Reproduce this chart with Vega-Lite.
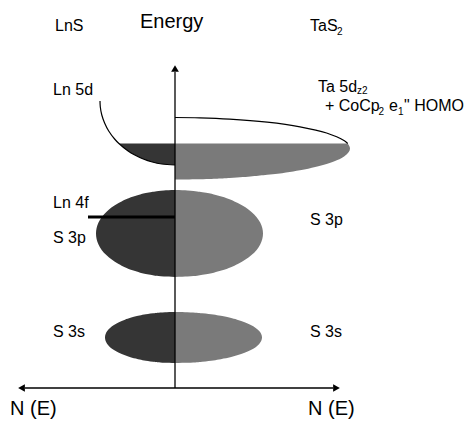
{
  "$schema": "https://vega.github.io/schema/vega-lite/v6.json",
  "width": 472,
  "height": 422,
  "autosize": {"type": "fit", "contains": "padding"},
  "padding": 0,
  "background": "white",
  "config": {"view": {"stroke": null}},
  "datasets": {
    "dos": [
      {"band": "S3s", "side": "LnS", "E": 59, "N": 0},
      {"band": "S3s", "side": "LnS", "E": 59.25, "N": -9.9},
      {"band": "S3s", "side": "LnS", "E": 60.3, "N": -21.8},
      {"band": "S3s", "side": "LnS", "E": 62.8, "N": -36.9},
      {"band": "S3s", "side": "LnS", "E": 66.65, "N": -50},
      {"band": "S3s", "side": "LnS", "E": 71.75, "N": -60.6},
      {"band": "S3s", "side": "LnS", "E": 78.1, "N": -67.8},
      {"band": "S3s", "side": "LnS", "E": 84.5, "N": -70},
      {"band": "S3s", "side": "LnS", "E": 90.9, "N": -67.8},
      {"band": "S3s", "side": "LnS", "E": 97.25, "N": -60.6},
      {"band": "S3s", "side": "LnS", "E": 102.35, "N": -50},
      {"band": "S3s", "side": "LnS", "E": 106.2, "N": -36.9},
      {"band": "S3s", "side": "LnS", "E": 108.7, "N": -21.8},
      {"band": "S3s", "side": "LnS", "E": 109.75, "N": -9.9},
      {"band": "S3s", "side": "LnS", "E": 110, "N": 0},
      {"band": "S3s", "side": "TaS2", "E": 59, "N": 0},
      {"band": "S3s", "side": "TaS2", "E": 59.25, "N": 12.3},
      {"band": "S3s", "side": "TaS2", "E": 60.3, "N": 27.1},
      {"band": "S3s", "side": "TaS2", "E": 62.8, "N": 45.8},
      {"band": "S3s", "side": "TaS2", "E": 66.65, "N": 62.1},
      {"band": "S3s", "side": "TaS2", "E": 71.75, "N": 75.3},
      {"band": "S3s", "side": "TaS2", "E": 78.1, "N": 84.2},
      {"band": "S3s", "side": "TaS2", "E": 84.5, "N": 87},
      {"band": "S3s", "side": "TaS2", "E": 90.9, "N": 84.2},
      {"band": "S3s", "side": "TaS2", "E": 97.25, "N": 75.3},
      {"band": "S3s", "side": "TaS2", "E": 102.35, "N": 62.1},
      {"band": "S3s", "side": "TaS2", "E": 106.2, "N": 45.8},
      {"band": "S3s", "side": "TaS2", "E": 108.7, "N": 27.1},
      {"band": "S3s", "side": "TaS2", "E": 109.75, "N": 12.3},
      {"band": "S3s", "side": "TaS2", "E": 110, "N": 0},
      {"band": "S3p", "side": "LnS", "E": 145, "N": 0},
      {"band": "S3p", "side": "LnS", "E": 145.4, "N": -11.1},
      {"band": "S3p", "side": "LnS", "E": 147.2, "N": -24.6},
      {"band": "S3p", "side": "LnS", "E": 151.5, "N": -41.6},
      {"band": "S3p", "side": "LnS", "E": 158.05, "N": -56.4},
      {"band": "S3p", "side": "LnS", "E": 166.75, "N": -68.4},
      {"band": "S3p", "side": "LnS", "E": 177.6, "N": -76.5},
      {"band": "S3p", "side": "LnS", "E": 188.5, "N": -79},
      {"band": "S3p", "side": "LnS", "E": 199.4, "N": -76.5},
      {"band": "S3p", "side": "LnS", "E": 210.25, "N": -68.4},
      {"band": "S3p", "side": "LnS", "E": 218.95, "N": -56.4},
      {"band": "S3p", "side": "LnS", "E": 225.5, "N": -41.6},
      {"band": "S3p", "side": "LnS", "E": 229.8, "N": -24.6},
      {"band": "S3p", "side": "LnS", "E": 231.6, "N": -11.1},
      {"band": "S3p", "side": "LnS", "E": 232, "N": 0},
      {"band": "S3p", "side": "TaS2", "E": 145, "N": 0},
      {"band": "S3p", "side": "TaS2", "E": 145.4, "N": 12.4},
      {"band": "S3p", "side": "TaS2", "E": 147.2, "N": 27.5},
      {"band": "S3p", "side": "TaS2", "E": 151.5, "N": 46.4},
      {"band": "S3p", "side": "TaS2", "E": 158.05, "N": 62.8},
      {"band": "S3p", "side": "TaS2", "E": 166.75, "N": 76.2},
      {"band": "S3p", "side": "TaS2", "E": 177.6, "N": 85.2},
      {"band": "S3p", "side": "TaS2", "E": 188.5, "N": 88},
      {"band": "S3p", "side": "TaS2", "E": 199.4, "N": 85.2},
      {"band": "S3p", "side": "TaS2", "E": 210.25, "N": 76.2},
      {"band": "S3p", "side": "TaS2", "E": 218.95, "N": 62.8},
      {"band": "S3p", "side": "TaS2", "E": 225.5, "N": 46.4},
      {"band": "S3p", "side": "TaS2", "E": 229.8, "N": 27.5},
      {"band": "S3p", "side": "TaS2", "E": 231.6, "N": 12.4},
      {"band": "S3p", "side": "TaS2", "E": 232, "N": 0},
      {"band": "d", "side": "LnS", "E": 257, "N": 0},
      {"band": "d", "side": "LnS", "E": 258, "N": -13.2},
      {"band": "d", "side": "LnS", "E": 260, "N": -22.7},
      {"band": "d", "side": "LnS", "E": 263, "N": -31.7},
      {"band": "d", "side": "LnS", "E": 267, "N": -40.2},
      {"band": "d", "side": "LnS", "E": 271, "N": -46.9},
      {"band": "d", "side": "LnS", "E": 275, "N": -52.1},
      {"band": "d", "side": "LnS", "E": 278.5, "N": -56.1},
      {"band": "d", "side": "TaS2", "E": 242.5, "N": 0},
      {"band": "d", "side": "TaS2", "E": 242.8, "N": 24.7},
      {"band": "d", "side": "TaS2", "E": 244.05, "N": 54.6},
      {"band": "d", "side": "TaS2", "E": 247.15, "N": 92.2},
      {"band": "d", "side": "TaS2", "E": 251.8, "N": 125},
      {"band": "d", "side": "TaS2", "E": 258, "N": 151.6},
      {"band": "d", "side": "TaS2", "E": 265.75, "N": 169.4},
      {"band": "d", "side": "TaS2", "E": 273.5, "N": 175},
      {"band": "d", "side": "TaS2", "E": 278.5, "N": 172.7}
    ],
    "outline": [
      {"curve": "Ln 5d", "E": 321, "N": -75},
      {"curve": "Ln 5d", "E": 315, "N": -74.7},
      {"curve": "Ln 5d", "E": 307, "N": -73.2},
      {"curve": "Ln 5d", "E": 299, "N": -70.4},
      {"curve": "Ln 5d", "E": 291, "N": -66.3},
      {"curve": "Ln 5d", "E": 283, "N": -60.4},
      {"curve": "Ln 5d", "E": 278.5, "N": -56.1},
      {"curve": "Ln 5d", "E": 271, "N": -46.9},
      {"curve": "Ln 5d", "E": 267, "N": -40.2},
      {"curve": "Ln 5d", "E": 263, "N": -31.7},
      {"curve": "Ln 5d", "E": 260, "N": -22.7},
      {"curve": "Ln 5d", "E": 258, "N": -13.2},
      {"curve": "Ln 5d", "E": 257, "N": 0},
      {"curve": "Ta 5d", "E": 304.5, "N": 0},
      {"curve": "Ta 5d", "E": 304.19, "N": 24.7},
      {"curve": "Ta 5d", "E": 302.95, "N": 54.6},
      {"curve": "Ta 5d", "E": 299.85, "N": 92.2},
      {"curve": "Ta 5d", "E": 295.2, "N": 125},
      {"curve": "Ta 5d", "E": 289, "N": 151.6},
      {"curve": "Ta 5d", "E": 281.25, "N": 169.4},
      {"curve": "Ta 5d", "E": 278.5, "N": 172.7}
    ],
    "axes": [
      {"N": 0, "N2": 0, "E": 34, "E2": 350},
      {"N": -150, "N2": 158, "E": 34, "E2": 34}
    ],
    "f": [
      {"N": -87, "N2": 0, "E": 205}
    ],
    "heads": [
      {"dir": "up", "N": 0, "E": 353.5},
      {"dir": "left", "N": -153.5, "E": 34},
      {"dir": "right", "N": 161.5, "E": 34}
    ],
    "labels": [
      {"t": "LnS", "N": -120, "E": 391},
      {"t": "TaS", "N": 135, "E": 391},
      {"t": "Ln 5d", "N": -122, "E": 327},
      {"t": "Ta 5d", "N": 143, "E": 330},
      {"t": "+ CoCp", "N": 150, "E": 311},
      {"t": "e", "N": 214, "E": 311},
      {"t": "\" HOMO", "N": 229, "E": 311},
      {"t": "Ln 4f", "N": -122, "E": 214},
      {"t": "S 3p", "N": -122, "E": 179},
      {"t": "S 3p", "N": 135, "E": 197},
      {"t": "S 3s", "N": -122, "E": 85},
      {"t": "S 3s", "N": 135, "E": 85}
    ],
    "subs": [
      {"t": "2", "N": 162, "E": 387.5},
      {"t": "z2", "N": 182, "E": 328},
      {"t": "2", "N": 203.5, "E": 307.5},
      {"t": "1", "N": 223, "E": 307.5}
    ],
    "big": [
      {"t": "Energy", "N": -35, "E": 394},
      {"t": "N (E)", "N": -165, "E": 7},
      {"t": "N (E)", "N": 133, "E": 7}
    ]
  },
  "layer": [
    {
      "data": {"name": "dos"},
      "mark": {"type": "area", "orient": "horizontal", "interpolate": "monotone"},
      "encoding": {
        "y": {"field": "E", "type": "quantitative", "scale": {"domain": [0, 422], "nice": false, "zero": false}, "axis": null},
        "x": {"field": "N", "type": "quantitative", "stack": null, "scale": {"domain": [-175, 297], "nice": false, "zero": false}, "axis": null},
        "x2": {"datum": 0},
        "color": {"field": "side", "type": "nominal", "scale": {"domain": ["LnS", "TaS2"], "range": ["#353535", "#7a7a7a"]}, "legend": null},
        "detail": {"field": "band"}
      }
    },
    {
      "data": {"name": "outline"},
      "mark": {"type": "line", "interpolate": "catmull-rom", "color": "black", "strokeWidth": 1.2},
      "encoding": {
        "y": {"field": "E", "type": "quantitative", "scale": {"domain": [0, 422], "nice": false, "zero": false}, "axis": null},
        "x": {"field": "N", "type": "quantitative", "scale": {"domain": [-175, 297], "nice": false, "zero": false}, "axis": null},
        "detail": {"field": "curve"},
        "order": {"field": "E", "sort": "descending"}
      }
    },
    {
      "data": {"name": "axes"},
      "mark": {"type": "rule", "color": "black", "strokeWidth": 1.3},
      "encoding": {
        "x": {"field": "N", "type": "quantitative", "scale": {"domain": [-175, 297], "nice": false, "zero": false}, "axis": null},
        "x2": {"field": "N2"},
        "y": {"field": "E", "type": "quantitative", "scale": {"domain": [0, 422], "nice": false, "zero": false}, "axis": null},
        "y2": {"field": "E2"}
      }
    },
    {
      "data": {"name": "f"},
      "mark": {"type": "rule", "color": "black", "strokeWidth": 3},
      "encoding": {
        "x": {"field": "N", "type": "quantitative", "scale": {"domain": [-175, 297], "nice": false, "zero": false}, "axis": null},
        "x2": {"field": "N2"},
        "y": {"field": "E", "type": "quantitative", "scale": {"domain": [0, 422], "nice": false, "zero": false}, "axis": null}
      }
    },
    {
      "data": {"name": "heads"},
      "mark": {"type": "point", "filled": true, "color": "black", "opacity": 1, "size": 60},
      "encoding": {
        "x": {"field": "N", "type": "quantitative", "scale": {"domain": [-175, 297], "nice": false, "zero": false}, "axis": null},
        "y": {"field": "E", "type": "quantitative", "scale": {"domain": [0, 422], "nice": false, "zero": false}, "axis": null},
        "shape": {"field": "dir", "type": "nominal", "scale": {"domain": ["up", "left", "right"], "range": ["triangle-up", "triangle-left", "triangle-right"]}, "legend": null}
      }
    },
    {
      "data": {"name": "labels"},
      "mark": {"type": "text", "align": "left", "baseline": "alphabetic", "font": "Liberation Sans", "fontSize": 16, "color": "black"},
      "encoding": {
        "x": {"field": "N", "type": "quantitative", "scale": {"domain": [-175, 297], "nice": false, "zero": false}, "axis": null},
        "y": {"field": "E", "type": "quantitative", "scale": {"domain": [0, 422], "nice": false, "zero": false}, "axis": null},
        "text": {"field": "t"}
      }
    },
    {
      "data": {"name": "subs"},
      "mark": {"type": "text", "align": "left", "baseline": "alphabetic", "font": "Liberation Sans", "fontSize": 10, "color": "black"},
      "encoding": {
        "x": {"field": "N", "type": "quantitative", "scale": {"domain": [-175, 297], "nice": false, "zero": false}, "axis": null},
        "y": {"field": "E", "type": "quantitative", "scale": {"domain": [0, 422], "nice": false, "zero": false}, "axis": null},
        "text": {"field": "t"}
      }
    },
    {
      "data": {"name": "big"},
      "mark": {"type": "text", "align": "left", "baseline": "alphabetic", "font": "Liberation Sans", "fontSize": 20, "color": "black"},
      "encoding": {
        "x": {"field": "N", "type": "quantitative", "scale": {"domain": [-175, 297], "nice": false, "zero": false}, "axis": null},
        "y": {"field": "E", "type": "quantitative", "scale": {"domain": [0, 422], "nice": false, "zero": false}, "axis": null},
        "text": {"field": "t"}
      }
    }
  ]
}
